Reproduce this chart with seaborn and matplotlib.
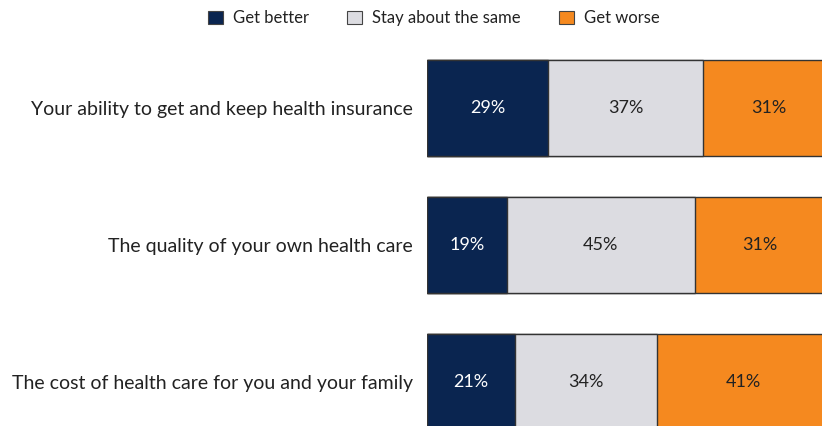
import numpy as np
import pandas as pd
import seaborn as sns
import matplotlib.pyplot as plt
from matplotlib.patches import Patch

categories = ["Your ability to get and keep health insurance",
              "The quality of your own health care",
              "The cost of health care for you and your family"]
series = ["Get better", "Stay about the same", "Get worse"]
better = [29, 19, 21]
same = [37, 45, 34]
worse = [31, 31, 41]
colors = ["#0A2550", "#DCDCE1", "#F5891F"]
text_colors = ["white", "#222222", "#222222"]

sns.set_theme(style="white")
plt.rcParams['font.family'] = ['Lato', 'DejaVu Sans']

df = pd.DataFrame({"category": categories, "better": better, "same": same, "worse": worse})
values = [df["better"].values, df["same"].values, df["worse"].values]
cum = np.cumsum(values, axis=0)

fig = plt.figure(figsize=(8.22, 4.26), dpi=100)
ax = fig.add_axes([427 / 822, 0, 1 - 427 / 822, 386 / 426])

# stacked bars drawn as overlapping cumulative totals, widest first
for i in reversed(range(3)):
    sns.barplot(x=cum[i], y=df["category"], orient="h", color=colors[i],
                edgecolor="#333333", linewidth=1.0, width=0.7, saturation=1, ax=ax)

for i in range(3):
    starts = cum[i] - values[i]
    for row in range(3):
        ax.text(starts[row] + values[i][row] / 2, row, f"{values[i][row]}%",
                ha="center", va="center", fontsize=13, color=text_colors[i])

ax.set_xlim(0, 94.3)
ax.set_ylim(2.321, -0.496)
ax.set_xlabel("")
ax.set_ylabel("")
ax.set_xticks([])
ax.tick_params(axis="y", length=0, pad=10, labelsize=14, labelcolor="#222222")
for s in ax.spines.values():
    s.set_visible(False)

handles = [Patch(facecolor=c, edgecolor="#444444", linewidth=0.8) for c in colors]
fig.legend(handles, series, loc="center", bbox_to_anchor=(0.528, 0.957), ncol=3,
           frameon=False, fontsize=12, handlelength=0.9, handleheight=0.9,
           handletextpad=0.6, columnspacing=2.3, labelcolor="#222222")

fig.savefig("out.png", dpi=100)
